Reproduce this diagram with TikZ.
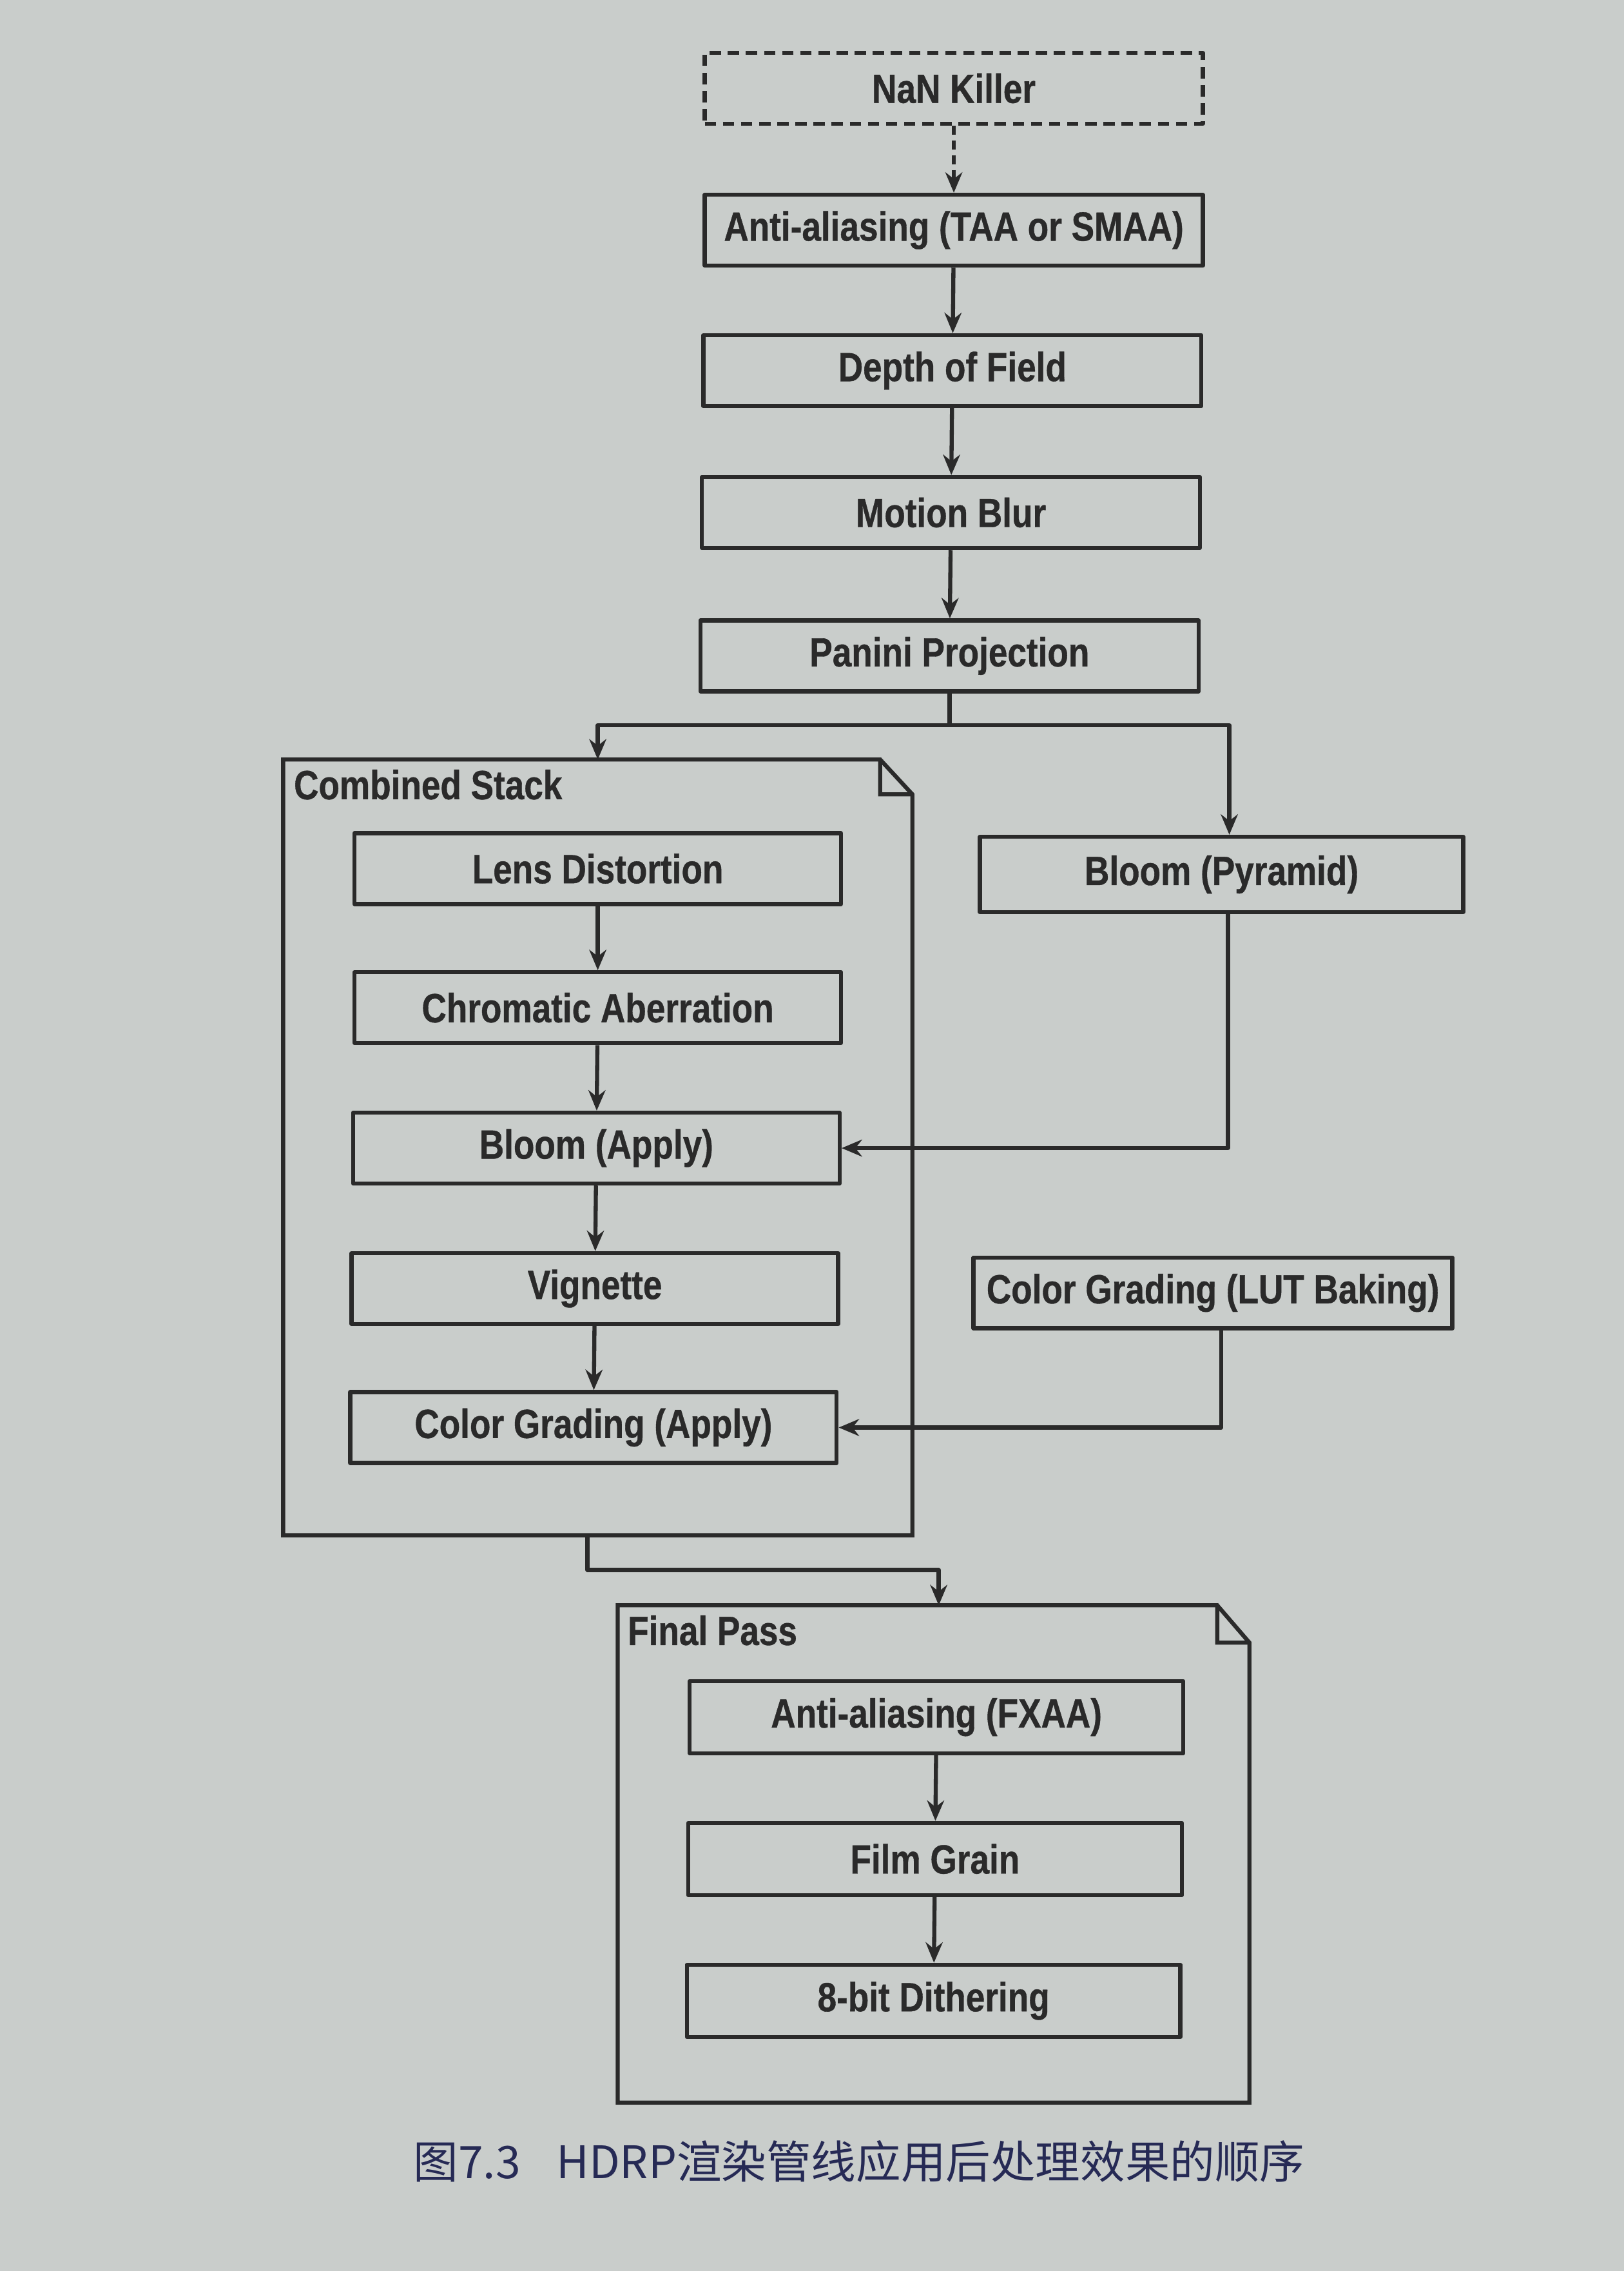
\documentclass[tikz,border=0pt]{standalone}
\usepackage{fontspec}
\usetikzlibrary{arrows.meta,positioning}
\newfontfamily\boxfont[FakeStretch=0.84,BoldFeatures={FakeBold=0.6}]{Liberation Sans}
\newfontfamily\cjkfont{Noto Sans CJK SC}
\definecolor{paper}{HTML}{C9CDCB}
\definecolor{ink}{HTML}{2A2A2A}
\definecolor{capblue}{HTML}{262A55}
\tikzset{
  pass/.style={draw=ink,line width=1.8pt,minimum width=7.73cm,minimum height=1.10cm,inner sep=0pt,
    text=ink,font=\boxfont\bfseries\fontsize{18}{20}\selectfont},
  inpass/.style={pass,minimum width=7.55cm},
  group/.style={inner sep=0pt,draw=none},
  folder/.style={draw=ink,line width=1.8pt,line join=miter},
  grouplabel/.style={inner sep=0pt,anchor=north west,text=ink,font=\boxfont\bfseries\fontsize{18}{20}\selectfont},
  flow/.style={draw=ink,line width=1.8pt,-{Stealth[length=9pt,width=7.5pt]}}
}
\begin{document}
\begin{tikzpicture}[x=0.02246cm,y=-0.02246cm,line join=round]
\fill[paper] (0,0) rectangle (1122,1568.6);
\useasboundingbox (0,0) rectangle (1122,1568.6);
% main column
\node[pass,dashed,dash pattern=on 5pt off 3pt] (nan) at (659,61) {NaN Killer};
\node[pass] (taa) at (659,159) {Anti-aliasing (TAA or SMAA)};
\node[pass] (dof) at (658,256) {Depth of Field};
\node[pass] (mblur) at (657,354) {Motion Blur};
\node[pass] (panini) at (656,453) {Panini Projection};
% combined stack
\node[group,minimum width=9.75cm,minimum height=12.02cm] (stack) at (413,792.5) {};
\draw[folder] (stack.north west) -- ([xshift=-0.5cm]stack.north east) -- ([yshift=-0.54cm]stack.north east)
  -- (stack.south east) -- (stack.south west) -- cycle;
\draw[folder] ([xshift=-0.5cm]stack.north east) -- ++(0,24) -- ([yshift=-0.54cm]stack.north east);
\node[grouplabel] (stacklabel) at ([xshift=0.16cm,yshift=-0.15cm]stack.north west) {Combined Stack};
\node[inpass] (lens) at (413,600) {Lens Distortion};
\node[inpass] (chrom) at (413,696) {Chromatic Aberration};
\node[inpass] (bapply) at (412,793) {Bloom (Apply)};
\node[inpass] (vign) at (411,890) {Vignette};
\node[inpass] (cgapply) at (410,986) {Color Grading (Apply)};
% side passes
\node[pass,minimum width=7.5cm,minimum height=1.17cm] (pyramid) at (844,604) {Bloom (Pyramid)};
\node[pass,minimum width=7.43cm] (lut) at (838,893) {Color Grading (LUT Baking)};
% final pass
\node[group,minimum width=9.79cm,minimum height=7.70cm] (final) at (645,1280.5) {};
\draw[folder] (final.north west) -- ([xshift=-0.5cm]final.north east) -- ([yshift=-0.58cm]final.north east)
  -- (final.south east) -- (final.south west) -- cycle;
\draw[folder] ([xshift=-0.5cm]final.north east) -- ++(0,25.8) -- ([yshift=-0.58cm]final.north east);
\node[grouplabel] (finallabel) at ([xshift=0.15cm,yshift=-0.15cm]final.north west) {Final Pass};
\node[pass,minimum width=7.66cm,minimum height=1.12cm] (fxaa) at (647,1186) {Anti-aliasing (FXAA)};
\node[pass,minimum width=7.66cm,minimum height=1.12cm] (grain) at (646,1284) {Film Grain};
\node[pass,minimum width=7.66cm,minimum height=1.12cm] (dither) at (645,1382) {8-bit Dithering};
% connectors
\draw[flow,dashed,dash pattern=on 4pt off 2.5pt] (nan) -- (taa);
\draw[flow] (taa) -- (dof);
\draw[flow] (dof) -- (mblur);
\draw[flow] (mblur) -- (panini);
\draw[flow] (panini.south) -- ++(0,22) -| (stack.north);
\draw[flow] (panini.south) -- ++(0,22) -| ([xshift=0.12cm]pyramid.north);
\draw[flow] (lens) -- (chrom);
\draw[flow] (chrom) -- (bapply);
\draw[flow] (bapply) -- (vign);
\draw[flow] (vign) -- (cgapply);
\draw[flow] ([xshift=0.1cm]pyramid.south) |- (bapply.east);
\draw[flow] ([xshift=0.13cm]lut.south) |- (cgapply.east);
\draw[flow] ([xshift=-0.16cm]stack.south) -- ++(0,24) -| ([xshift=0.08cm]final.north);
\draw[flow] (fxaa) -- (grain);
\draw[flow] (grain) -- (dither);
% caption
\node[text=capblue,font=\cjkfont\fontsize{19.8}{23}\selectfont] (caption) at (593.5,1493)
  {图7.3\hspace{0.8em}HDRP渲染管线应用后处理效果的顺序};
\end{tikzpicture}
\end{document}
